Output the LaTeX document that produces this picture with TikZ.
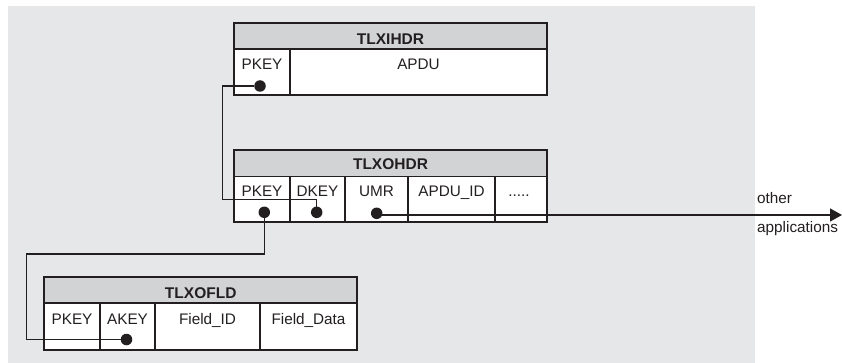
\documentclass[tikz,border=0pt]{standalone}
\usepackage{fontspec}
\setmainfont{Liberation Sans}
\usetikzlibrary{arrows.meta}
\definecolor{panel}{HTML}{E6E7E8}
\definecolor{headfill}{HTML}{D1D3D4}
\definecolor{ink}{HTML}{231F20}
\begin{document}
\begin{tikzpicture}[x=1pt, y=-1pt,
  font=\fontsize{15.3}{18}\selectfont,
  headbox/.style={draw=ink, fill=headfill, line width=1.8pt},
  cellbox/.style={draw=ink, fill=white, line width=1.4pt},
  frame/.style={draw=ink, line width=1.8pt},
  hd/.style={anchor=base, inner sep=0pt, text=ink, font=\fontsize{15.5}{18}\selectfont\bfseries},
  lbl/.style={anchor=base, inner sep=0pt, text=ink},
  keydot/.style={circle, fill=ink, inner sep=0pt, outer sep=0pt, minimum size=11.5pt},
  link/.style={draw=ink, line width=1.3pt}]

% canvas and grey panel
\useasboundingbox (0,0) rectangle (842,363);
\fill[panel] (8,6) rectangle (755,363);

% ---------- table TLXIHDR ----------
\draw[headbox] (234.3,23) rectangle (546.7,49.3);
\draw[cellbox] (234.3,49.3) rectangle (290,95.3);
\draw[cellbox] (290,49.3) rectangle (546.7,95.3);
\draw[frame] (234.3,23) rectangle (546.7,95.3);
\node[hd]  (ihdr)      at (390.5,44.3) {TLXIHDR};
\node[lbl] (ihdr-pkl)  at (262,70)     {PKEY};
\node[lbl] (ihdr-apdu) at (418.5,70)   {APDU};
\node[keydot] (ihdr-pk) at (260,86) {};

% ---------- table TLXOHDR ----------
\draw[headbox] (234.3,150) rectangle (546.7,176.7);
\draw[cellbox] (234.3,176.7) rectangle (290,222.3);
\draw[cellbox] (290,176.7) rectangle (345,222.3);
\draw[cellbox] (345,176.7) rectangle (408,222.3);
\draw[cellbox] (408,176.7) rectangle (495,222.3);
\draw[cellbox] (495,176.7) rectangle (546.7,222.3);
\draw[frame] (234.3,150) rectangle (546.7,222.3);
\node[hd]  (ohdr)      at (390.5,170) {TLXOHDR};
\node[lbl] (ohdr-pkl)  at (262,197)   {PKEY};
\node[lbl] (ohdr-dkl)  at (317.5,197) {DKEY};
\node[lbl] (ohdr-umrl) at (376.5,197) {UMR};
\node[lbl] (ohdr-apid) at (451.5,197) {APDU\_ID};
\node[lbl] (ohdr-more) at (519,197)   {.....};
\node[keydot] (ohdr-pk)  at (264.3,212.3) {};
\node[keydot] (ohdr-dk)  at (316.7,212.3) {};
\node[keydot] (ohdr-umr) at (376.7,213.3) {};

% ---------- table TLXOFLD ----------
\draw[headbox] (44.3,276.7) rectangle (357,303.3);
\draw[cellbox] (44.3,303.3) rectangle (100,350);
\draw[cellbox] (100,303.3) rectangle (155,350);
\draw[cellbox] (155,303.3) rectangle (260,350);
\draw[cellbox] (260,303.3) rectangle (357,350);
\draw[frame] (44.3,276.7) rectangle (357,350);
\node[hd]  (ofld)      at (200.7,298.3) {TLXOFLD};
\node[lbl] (ofld-pkl)  at (72,324.5)    {PKEY};
\node[lbl] (ofld-akl)  at (127.5,324.5) {AKEY};
\node[lbl] (ofld-fid)  at (207.5,324.5) {Field\_ID};
\node[lbl] (ofld-fdat) at (308.5,324.5) {Field\_Data};
\node[keydot] (ofld-ak) at (126.5,339.5) {};

% ---------- key links ----------
\coordinate (bendA) at (222.7,199.5);
\coordinate (bendB) at (26.7,254);
\coordinate (outlet) at (842,215);
\draw[link] (ihdr-pk) -| (bendA) -| (ohdr-dk);
\draw[link] (ohdr-pk) |- (bendB) |- (ofld-ak);
\draw[link, -{Triangle[length=12pt, width=13pt]}]
  ([yshift=-1.7pt]ohdr-umr.center) -- (outlet);

% outgoing label
\node[lbl, anchor=base west] (other) at (757,203.3) {other};
\node[lbl, anchor=base west] (apps)  at (757,233)   {applications};
\end{tikzpicture}
\end{document}
